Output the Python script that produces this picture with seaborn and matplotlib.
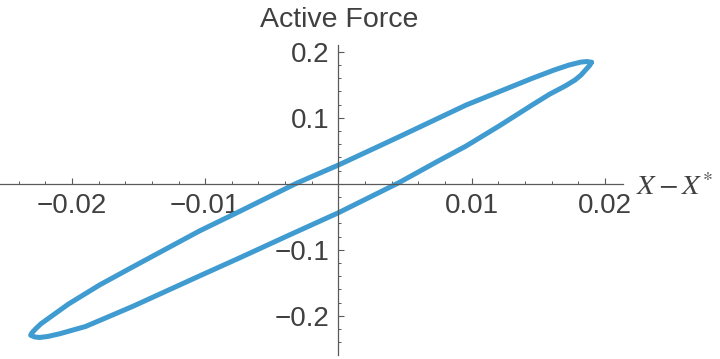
import numpy as np
import pandas as pd
import matplotlib
matplotlib.use("Agg")
import matplotlib.pyplot as plt
import seaborn as sns
from matplotlib.ticker import FixedLocator, MultipleLocator

# === Data (X - X*, active force) ===
# lower branch, from the top-right tip down to the bottom-left tip
lower_x = [0.01900, 0.01885, 0.01858, 0.01821, 0.01776, 0.01708, 0.01581, 0.01454, 0.01206,
           0.00959, 0.00756, 0.00457, 0.00001, -0.00368, -0.00743, -0.01043, -0.01545,
           -0.01897, -0.02092, -0.02182, -0.02242, -0.02280, -0.02310]
lower_y = [0.1841, 0.1792, 0.1732, 0.1648, 0.1573, 0.1489, 0.1353, 0.1194, 0.0876,
           0.0573, 0.0353, 0.0020, -0.0438, -0.0776, -0.1124, -0.1397, -0.1859,
           -0.2162, -0.2273, -0.2314, -0.2329, -0.2321, -0.2295]
# upper branch, from the bottom-left tip back up to the top-right tip
upper_x = [-0.02310, -0.02298, -0.02272, -0.02234, -0.02182, -0.02025, -0.01792, -0.01545,
           -0.01043, -0.00743, -0.00318, 0.00001, 0.00457, 0.00959, 0.01454, 0.01619,
           0.01731, 0.01821, 0.01866, 0.01900]
upper_y = [-0.2295, -0.2253, -0.2197, -0.2124, -0.2048, -0.1821, -0.1533, -0.1261,
           -0.0715, -0.0420, 0.0005, 0.0285, 0.0714, 0.1194, 0.1598, 0.1724,
           0.1800, 0.1845, 0.1853, 0.1841]

x_ticks = [-0.02, -0.01, 0.01, 0.02]
x_tick_labels = ['\u22120.02', '\u22120.01', '0.01', '0.02']
y_ticks = [-0.2, -0.1, 0.1, 0.2]
y_tick_labels = ['\u22120.2', '\u22120.1', '0.1', '0.2']

df = pd.DataFrame({
    'dx': lower_x + upper_x,
    'force': lower_y + upper_y,
})

# === Style ===
sns.set_style('white')
plt.rcParams['font.family'] = ['Liberation Sans', 'DejaVu Sans']
plt.rcParams['mathtext.fontset'] = 'stix'

axis_col = '#5a5a5a'
text_col = '#404040'
line_col = '#3f9bd0'

fig = plt.figure(figsize=(7.2, 3.59), dpi=100)
ax = fig.add_axes([0.0, 0.012, 623 / 720, 0.862])

sns.lineplot(data=df, x='dx', y='force', sort=False, estimator=None, ax=ax,
             color=line_col, linewidth=3.6, solid_joinstyle='round', solid_capstyle='round')

ax.set_xlim(-0.0254, 0.02136)
ax.set_ylim(-0.259, 0.21)

# Mathematica style axes crossing at the origin
for side in ['top', 'right']:
    ax.spines[side].set_visible(False)
for side in ['left', 'bottom']:
    ax.spines[side].set_position(('data', 0))
    ax.spines[side].set_color(axis_col)
    ax.spines[side].set_linewidth(0.9)

ax.xaxis.set_major_locator(FixedLocator(x_ticks))
ax.set_xticklabels(x_tick_labels)
ax.yaxis.set_major_locator(FixedLocator(y_ticks))
ax.set_yticklabels(y_tick_labels)
ax.xaxis.set_minor_locator(MultipleLocator(0.002))
ax.yaxis.set_minor_locator(MultipleLocator(0.02))

ax.tick_params(which='both', bottom=True, left=True, top=False, right=False)
ax.tick_params(which='major', direction='in', length=4.3, width=0.8, color=axis_col,
               labelsize=20, labelcolor=text_col, pad=6.5)
ax.tick_params(which='minor', direction='in', length=2.5, width=0.7, color=axis_col)
ax.set_xlabel('')
ax.set_ylabel('')

fig.text(339 / 720, 1 - 26.7 / 359, 'Active Force', ha='center', va='baseline',
         fontsize=20.5, color=text_col)
fig.text(636 / 720, (359 - 195) / 359, r'$X - X^{*}$', ha='left', va='baseline',
         fontsize=20.5, color=text_col)

fig.savefig('out.png', dpi=100)
